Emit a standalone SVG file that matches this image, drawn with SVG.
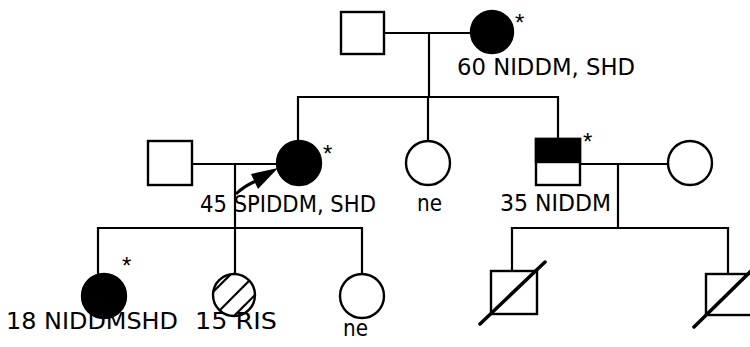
<svg xmlns="http://www.w3.org/2000/svg" width="750" height="347" viewBox="0 0 750 347">
<style>
.ln{fill:none;stroke:#000;stroke-width:2.2}
.sh{fill:#fff;stroke:#000;stroke-width:2.4}
.fl{fill:#000;stroke:#000;stroke-width:2.4}
.sl{stroke:#000;stroke-width:3.5;stroke-linecap:round}
.tx{font-family:"DejaVu Sans",Verdana,sans-serif;font-size:23px;fill:#000}
.as{font-family:"Liberation Sans",Arial,sans-serif;font-size:24px;fill:#000}
</style>
<defs>
<clipPath id="hc"><circle cx="234" cy="295" r="21"/></clipPath>
</defs>
<g id="connectors">
<line class="ln" x1="384" y1="33" x2="471" y2="33"/>
<line class="ln" x1="429" y1="33" x2="429" y2="97"/>
<polyline class="ln" points="298,141 298,97 558,97 558,139"/>
<line class="ln" x1="428" y1="97" x2="428" y2="142"/>
<line class="ln" x1="192" y1="164" x2="277" y2="164"/>
<line class="ln" x1="235" y1="164" x2="235" y2="274"/>
<polyline class="ln" points="98,274 98,228 362,228 362,274"/>
<line class="ln" x1="580" y1="164" x2="668" y2="164"/>
<line class="ln" x1="618" y1="164" x2="618" y2="228"/>
<polyline class="ln" points="512,271 512,228 728,228 728,274"/>
<path d="M236,194 Q244,186 256,181" fill="none" stroke="#000" stroke-width="3"/>
<polygon points="278,168 251,174 258,189" fill="#000"/>
</g>
<g id="n1"><rect class="sh" x="341" y="12" width="43" height="42"/></g>
<g id="n2"><circle class="fl" cx="492" cy="32" r="21"/><text class="as" x="515" y="31">*</text><text class="tx" x="457" y="75" textLength="178" lengthAdjust="spacingAndGlyphs">60 NIDDM, SHD</text></g>
<g id="n3"><rect class="sh" x="148" y="141" width="44" height="44"/></g>
<g id="n4"><circle class="fl" cx="299" cy="163" r="22"/><text class="as" x="323" y="162">*</text><text class="tx" x="200" y="212" textLength="176" lengthAdjust="spacingAndGlyphs">45 SPIDDM, SHD</text></g>
<g id="n5"><circle class="sh" cx="428" cy="163" r="22"/><text class="tx" x="417" y="211" textLength="25" lengthAdjust="spacingAndGlyphs">ne</text></g>
<g id="n6"><rect class="sh" x="536" y="139" width="44" height="46"/><rect x="536" y="139" width="44" height="23" fill="#000" stroke="#000" stroke-width="2.4"/><text class="as" x="583" y="150">*</text><text class="tx" x="500" y="211" textLength="111" lengthAdjust="spacingAndGlyphs">35 NIDDM</text></g>
<g id="n7"><circle class="sh" cx="690" cy="163" r="22"/></g>
<g id="n8"><circle class="fl" cx="104" cy="296" r="22"/><text class="as" x="122" y="274">*</text><text class="tx" x="6" y="329" textLength="172" lengthAdjust="spacingAndGlyphs">18 NIDDMSHD</text></g>
<g id="n9"><circle class="sh" cx="234" cy="295" r="21"/>
<g clip-path="url(#hc)" stroke="#000" stroke-width="2.2">
<line x1="200" y1="305" x2="245" y2="260"/>
<line x1="210" y1="320" x2="260" y2="270"/>
<line x1="225" y1="325" x2="275" y2="275"/>
</g>
<text class="tx" x="195" y="329" textLength="82" lengthAdjust="spacingAndGlyphs">15 RIS</text></g>
<g id="n10"><circle class="sh" cx="362" cy="296" r="22"/><text class="tx" x="343" y="336" textLength="25" lengthAdjust="spacingAndGlyphs">ne</text></g>
<g id="n11"><rect class="sh" x="491" y="271" width="46" height="43"/><line class="sl" x1="480" y1="324" x2="545" y2="262"/></g>
<g id="n12"><rect class="sh" x="706" y="274" width="46" height="41"/><line class="sl" x1="694" y1="327" x2="754" y2="268"/></g>
</svg>
